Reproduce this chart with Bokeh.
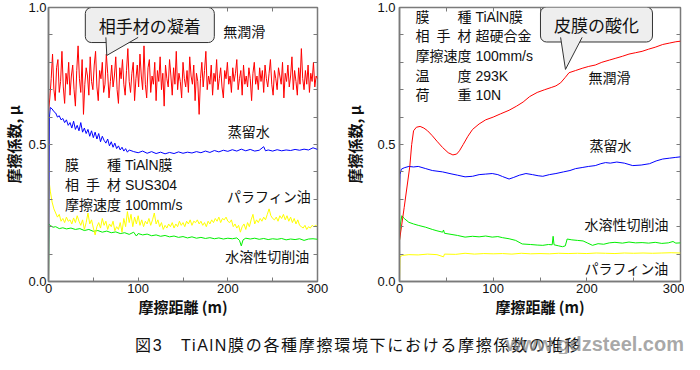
from bokeh.plotting import figure
from bokeh.models import Range1d, FixedTicker, LinearAxis, Label, NumeralTickFormatter, Div
from bokeh.layouts import row, column
from bokeh.embed import file_html
from bokeh.resources import INLINE

# ---------------- data: left panel (counterpart SUS304) ----------------
red_left_x = [i * 1.5 for i in range(201)]
red_left_y = [0.62, 0.67, 0.74, 0.83, 0.70, 0.66, 0.78, 0.81, 0.69, 0.73,
              0.84, 0.71, 0.65, 0.76, 0.72, 0.80, 0.68, 0.75, 0.79, 0.70,
              0.64, 0.77, 0.86, 0.74, 0.69, 0.81, 0.61, 0.72, 0.78, 0.75,
              0.68, 0.82, 0.73, 0.70, 0.79, 0.84, 0.71, 0.66, 0.77, 0.74,
              0.80, 0.69, 0.72, 0.83, 0.76, 0.67, 0.73, 0.79, 0.71, 0.75,
              0.82, 0.70, 0.65, 0.78, 0.74, 0.81, 0.72, 0.68, 0.77, 0.85,
              0.73, 0.69, 0.76, 0.80, 0.66, 0.74, 0.79, 0.71, 0.83, 0.75,
              0.70, 0.86, 0.72, 0.67, 0.78, 0.81, 0.69, 0.75, 0.72, 0.80,
              0.66, 0.77, 0.73, 0.82, 0.70, 0.76, 0.64, 0.79, 0.74, 0.71,
              0.81, 0.75, 0.68, 0.78, 0.72, 0.84, 0.70, 0.76, 0.73, 0.67,
              0.80, 0.74, 0.71, 0.77, 0.69, 0.82, 0.75, 0.72, 0.79, 0.66,
              0.76, 0.73, 0.61, 0.74, 0.80, 0.71, 0.77, 0.84, 0.70, 0.75,
              0.72, 0.79, 0.68, 0.76, 0.73, 0.81, 0.70, 0.74, 0.78, 0.71,
              0.67, 0.77, 0.74, 0.80, 0.72, 0.75, 0.69, 0.78, 0.73, 0.76,
              0.81, 0.70, 0.74, 0.77, 0.68, 0.79, 0.72, 0.75, 0.71, 0.78,
              0.74, 0.66, 0.76, 0.80, 0.72, 0.75, 0.70, 0.78, 0.73, 0.77,
              0.69, 0.79, 0.74, 0.71, 0.76, 0.81, 0.72, 0.68, 0.77, 0.74,
              0.70, 0.78, 0.75, 0.72, 0.80, 0.67, 0.76, 0.73, 0.79, 0.71,
              0.75, 0.82, 0.70, 0.77, 0.73, 0.68, 0.78, 0.72, 0.85, 0.74,
              0.70, 0.77, 0.72, 0.79, 0.69, 0.76, 0.73, 0.80, 0.71, 0.75,
              0.74]

blue_left_x = [0, 1, 2, 4, 6, 8, 10, 12, 14, 16, 18, 20, 22, 24, 26, 28, 30, 32, 34, 36, 38, 40, 42, 44, 46,
               48, 50, 52, 54, 56, 58, 60, 62, 64, 66, 68, 70, 72, 74, 76, 78, 80, 82, 84, 86, 88, 90, 95,
               100, 105, 110, 115, 120, 125, 130, 135, 140, 145, 150, 155, 160, 165, 170, 175, 180, 185,
               190, 195, 200, 205, 210, 215, 220, 225, 230, 235, 240, 242, 245, 250, 255, 260, 265, 270,
               275, 280, 285, 290, 295, 300]
blue_left_y = [0.0, 0.60, 0.635, 0.63, 0.62, 0.615, 0.60, 0.605, 0.59, 0.595, 0.58, 0.59, 0.57, 0.58, 0.56,
               0.585, 0.555, 0.57, 0.55, 0.58, 0.545, 0.56, 0.54, 0.555, 0.53, 0.55, 0.525, 0.545, 0.52,
               0.54, 0.51, 0.53, 0.515, 0.505, 0.52, 0.495, 0.51, 0.49, 0.505, 0.485, 0.495, 0.48, 0.49,
               0.476, 0.485, 0.472, 0.48, 0.474, 0.47, 0.476, 0.468, 0.474, 0.467, 0.472, 0.466, 0.471,
               0.467, 0.473, 0.468, 0.472, 0.469, 0.474, 0.47, 0.476, 0.471, 0.478, 0.473, 0.479, 0.475,
               0.481, 0.476, 0.483, 0.477, 0.482, 0.476, 0.479, 0.492, 0.477, 0.48, 0.476, 0.481, 0.477,
               0.48, 0.478, 0.482, 0.479, 0.483, 0.48, 0.488, 0.482]

yellow_left_x = [0, 0.5] + list(range(2, 301, 2))
yellow_left_y = [0.0, 0.37, 0.33, 0.29, 0.265, 0.25, 0.235, 0.245, 0.22, 0.23, 0.215, 0.235, 0.22, 0.225,
                 0.21, 0.232, 0.215, 0.24, 0.22, 0.205, 0.225, 0.19, 0.215, 0.25, 0.21, 0.225, 0.195, 0.17,
                 0.2, 0.215, 0.195, 0.23, 0.205, 0.22, 0.19, 0.21, 0.2, 0.22, 0.185, 0.2, 0.19, 0.215, 0.18,
                 0.23, 0.2, 0.255, 0.215, 0.245, 0.2, 0.235, 0.21, 0.24, 0.205, 0.225, 0.2, 0.22, 0.21,
                 0.23, 0.205, 0.225, 0.25, 0.21, 0.225, 0.2, 0.215, 0.19, 0.205, 0.195, 0.21, 0.2, 0.215,
                 0.195, 0.21, 0.2, 0.22, 0.205, 0.215, 0.2, 0.22, 0.21, 0.225, 0.205, 0.22, 0.215, 0.225,
                 0.21, 0.22, 0.205, 0.215, 0.2, 0.22, 0.21, 0.225, 0.215, 0.23, 0.22, 0.235, 0.215, 0.23,
                 0.225, 0.235, 0.22, 0.215, 0.225, 0.2, 0.21, 0.195, 0.205, 0.18, 0.2, 0.21, 0.19, 0.215,
                 0.2, 0.225, 0.245, 0.21, 0.225, 0.215, 0.23, 0.22, 0.235, 0.225, 0.245, 0.265, 0.24, 0.23,
                 0.225, 0.235, 0.22, 0.24, 0.23, 0.245, 0.225, 0.24, 0.22, 0.235, 0.215, 0.23, 0.21, 0.225,
                 0.205, 0.2, 0.195, 0.205, 0.19, 0.2, 0.195, 0.205, 0.2, 0.205, 0.2]

green_left_x = [0, 0.5, 2, 5, 8, 12, 16, 20, 25, 30, 35, 40, 45, 50, 55, 60, 65, 70, 75, 80, 85, 90, 95, 98,
                100, 105, 110, 115, 120, 125, 130, 135, 140, 145, 150, 155, 160, 165, 170, 175, 180, 185,
                190, 195, 200, 205, 210, 213, 215, 217, 220, 225, 230, 235, 240, 245, 250, 255, 260, 265,
                270, 275, 280, 285, 290, 295, 300]
green_left_y = [0.0, 0.21, 0.205, 0.198, 0.2, 0.193, 0.196, 0.192, 0.195, 0.19, 0.193, 0.186, 0.19, 0.183,
                0.186, 0.18, 0.184, 0.178, 0.181, 0.175, 0.178, 0.172, 0.18, 0.166, 0.175, 0.17, 0.173,
                0.167, 0.17, 0.165, 0.168, 0.163, 0.166, 0.161, 0.164, 0.159, 0.163, 0.158, 0.161, 0.157,
                0.16, 0.156, 0.159, 0.155, 0.158, 0.156, 0.159, 0.15, 0.13, 0.152, 0.158, 0.155, 0.158,
                0.154, 0.157, 0.153, 0.156, 0.154, 0.157, 0.152, 0.155, 0.153, 0.156, 0.15, 0.155, 0.156,
                0.154]

# ---------------- data: right panel (counterpart cemented carbide) ----------------
red_right_x = [0, 5, 11, 13, 15, 18, 22, 26, 30, 35, 40, 46, 52, 57, 61, 64, 68, 73, 78, 85, 92, 100, 108,
               117, 125, 132, 139, 147, 155, 162, 167, 172, 177, 181, 188, 195, 202, 209, 216, 224, 231,
               238, 245, 252, 259, 266, 273, 281, 288, 295, 300]
red_right_y = [0.15, 0.27, 0.42, 0.50, 0.55, 0.563, 0.566, 0.56, 0.55, 0.532, 0.512, 0.489, 0.47, 0.462,
               0.465, 0.477, 0.50, 0.53, 0.555, 0.575, 0.59, 0.60, 0.612, 0.625, 0.64, 0.655, 0.675, 0.69,
               0.70, 0.708, 0.714, 0.725, 0.745, 0.762, 0.77, 0.778, 0.785, 0.79, 0.80, 0.808, 0.815,
               0.822, 0.83, 0.835, 0.84, 0.848, 0.855, 0.865, 0.87, 0.875, 0.877]

blue_right_x = [0, 0.5, 2, 5, 10, 15, 20, 28, 35, 46, 55, 62, 70, 78, 85, 92, 99, 105, 110, 117, 122, 128,
                135, 142, 148, 153, 160, 167, 175, 182, 188, 195, 202, 209, 215, 220, 225, 232, 240, 249,
                258, 267, 274, 281, 288, 295, 300]
blue_right_y = [0.33, 0.39, 0.41, 0.415, 0.42, 0.418, 0.42, 0.412, 0.405, 0.40, 0.393, 0.388, 0.382, 0.384,
                0.39, 0.392, 0.394, 0.39, 0.383, 0.374, 0.38, 0.388, 0.394, 0.39, 0.386, 0.384, 0.39, 0.394,
                0.40, 0.405, 0.412, 0.416, 0.42, 0.423, 0.43, 0.434, 0.432, 0.436, 0.432, 0.423, 0.425,
                0.43, 0.44, 0.447, 0.45, 0.453, 0.455]

green_right_x = [0, 1, 2.5, 5, 10, 15, 20, 28, 35, 40, 46, 47, 48, 55, 62, 70, 78, 85, 92, 99, 105, 110, 117,
                 124, 131, 140, 147, 153, 159, 163, 164, 165, 170, 174, 177, 179, 184, 190, 196, 201, 206,
                 212, 218, 224, 230, 238, 245, 252, 259, 266, 273, 280, 287, 292, 295, 300]
green_right_y = [0.15, 0.21, 0.24, 0.23, 0.216, 0.21, 0.205, 0.198, 0.19, 0.185, 0.18, 0.188, 0.176, 0.172,
                 0.168, 0.162, 0.165, 0.163, 0.166, 0.162, 0.164, 0.16, 0.156, 0.15, 0.137, 0.135, 0.133,
                 0.132, 0.135, 0.134, 0.165, 0.134, 0.13, 0.127, 0.13, 0.155, 0.152, 0.15, 0.148, 0.14,
                 0.132, 0.138, 0.136, 0.141, 0.143, 0.14, 0.144, 0.141, 0.142, 0.14, 0.143, 0.139, 0.141,
                 0.146, 0.14, 0.141]

yellow_right_x = [0, 0.5, 3, 10, 20, 30, 40, 47, 48, 60, 70, 80, 90, 100, 110, 120, 130, 140, 150, 160, 170,
                  180, 190, 200, 210, 220, 230, 240, 250, 260, 270, 280, 290, 300]
yellow_right_y = [0.0, 0.09, 0.095, 0.098, 0.097, 0.1, 0.098, 0.09, 0.1, 0.099, 0.103, 0.1, 0.102, 0.101,
                  0.102, 0.1, 0.103, 0.101, 0.102, 0.101, 0.103, 0.102, 0.103, 0.102, 0.104, 0.103, 0.102,
                  0.104, 0.103, 0.104, 0.103, 0.104, 0.105, 0.104]

x_major = [0, 100, 200, 300]
x_minor = [50, 150, 250]
y_major = [0.0, 0.5, 1.0]
y_minor = [0.1, 0.2, 0.3, 0.4, 0.6, 0.7, 0.8, 0.9]

left_info = ["膜\u3000\u3000種 TiAlN膜", "相\u2002手\u2002材 SUS304", "摩擦速度 100mm/s"]
right_info = ["膜\u3000\u3000種 TiAlN膜", "相\u2002手\u2002材 超硬合金", "摩擦速度 100mm/s",
              "温\u3000\u3000度 293K", "荷\u3000\u3000重 10N"]
caption = "図3\u3000TiAlN膜の各種摩擦環境下における摩擦係数の推移"

FONT = "Liberation Sans, Noto Sans CJK JP"
JP = "Noto Sans CJK JP"
GRAY = "#7a7a7a"
H = 323
BTOP = 7
FRAME_H = 274
CAP_H = 354 - H


def style_axis(ax, xdir):
    ax.ticker = FixedTicker(ticks=x_major if xdir else y_major, minor_ticks=x_minor if xdir else y_minor)
    ax.major_tick_in = 4
    ax.major_tick_out = 0
    ax.minor_tick_in = 4
    ax.minor_tick_out = 0
    ax.major_tick_line_color = GRAY
    ax.minor_tick_line_color = GRAY
    ax.major_tick_line_width = 1
    ax.axis_line_color = GRAY
    ax.axis_line_width = 1.5
    ax.formatter = NumeralTickFormatter(format="0" if xdir else "0.0")
    ax.major_label_text_font = "Liberation Sans"
    ax.major_label_text_font_size = "13px"
    ax.major_label_text_color = "#111111"


def tick_only_axis(xdir):
    # an axis with only (unlabelled) minor ticks, for the top and right edges of the frame
    ax = LinearAxis(ticker=FixedTicker(ticks=[], minor_ticks=(x_major + x_minor) if xdir else (y_major + y_minor)))
    ax.minor_tick_in = 4
    ax.minor_tick_out = 0
    ax.major_tick_in = 0
    ax.major_tick_out = 0
    ax.minor_tick_line_color = GRAY
    ax.axis_line_color = None
    ax.major_label_standoff = 0
    ax.axis_label_standoff = 0
    return ax


def make_fig(width, bl, br, ylab_standoff, ytick_standoff):
    p = figure(width=width, height=H, x_range=Range1d(0, 300), y_range=Range1d(0, 1),
               output_backend="svg", toolbar_location=None, margin=0,
               min_border_left=bl, min_border_right=br, min_border_top=BTOP,
               min_border_bottom=H - FRAME_H - BTOP)
    p.xgrid.visible = False
    p.ygrid.visible = False
    p.outline_line_color = GRAY
    p.outline_line_width = 1.5
    style_axis(p.xaxis[0], True)
    style_axis(p.yaxis[0], False)
    p.xaxis.major_label_standoff = 2
    p.yaxis.major_label_standoff = ytick_standoff
    p.xaxis.axis_label = "摩擦距離 (m)"
    p.yaxis.axis_label = "摩擦係数, μ"
    for ax in (p.xaxis[0], p.yaxis[0]):
        ax.axis_label_text_font = JP
        ax.axis_label_text_font_size = "15px"
        ax.axis_label_text_font_style = "bold"
        ax.axis_label_text_color = "#111111"
    p.xaxis.axis_label_standoff = 0
    p.yaxis.axis_label_standoff = ylab_standoff
    p.add_layout(tick_only_axis(True), "above")
    p.add_layout(tick_only_axis(False), "right")
    return p


def add_text(p, x, y, t, size="14px", font=FONT):
    p.add_layout(Label(x=x, y=y, text=t, text_font=font, text_font_size=size, text_align="left",
                       text_baseline="middle", text_color="#111111"))


def add_callout(p, cx, cy, t, tail_x, tail_y):
    p.patch(tail_x, tail_y, fill_color="#eeeeee", line_color=None, level="overlay")
    p.line(tail_x, tail_y, line_color="#333333", line_width=1, level="overlay")
    p.add_layout(Label(x=cx, y=cy, text="\u2002" + t + "\u2002", text_font=JP, text_font_size="17px",
                       text_align="center", text_baseline="middle", text_color="#111111",
                       background_fill_color="#eeeeee", border_line_color="#333333",
                       border_line_width=1, padding=5, border_radius=6))


# ---------------- left ----------------
p1 = make_fig(332, 40, 15, 1, 2)
p1.line(green_left_x, green_left_y, line_color="#00ee00", line_width=1)
p1.line(yellow_left_x, yellow_left_y, line_color="#ffff00", line_width=1)
p1.line(blue_left_x, blue_left_y, line_color="#0000ff", line_width=1)
p1.line(red_left_x, red_left_y, line_color="#ff0000", line_width=1)
add_text(p1, 195, 0.909, "無潤滑")
add_text(p1, 200, 0.547, "蒸留水")
add_text(p1, 199, 0.307, "パラフィン油")
add_text(p1, 197, 0.088, "水溶性切削油")
for i, t in enumerate(left_info):
    add_text(p1, 18.4, 0.427 - i * 0.073, t)
add_callout(p1, 113, 0.936, "相手材の凝着", [64, 65, 100], [0.891, 0.825, 0.891])

# ---------------- right ----------------
p2 = make_fig(352, 67, 4, 9, 4)
p2.line(yellow_right_x, yellow_right_y, line_color="#ffff00", line_width=1)
p2.line(green_right_x, green_right_y, line_color="#00ee00", line_width=1)
p2.line(blue_right_x, blue_right_y, line_color="#0000ff", line_width=1)
p2.line(red_right_x, red_right_y, line_color="#ff0000", line_width=1)
add_text(p2, 201.8, 0.741, "無潤滑")
add_text(p2, 202.8, 0.493, "蒸留水")
add_text(p2, 197.5, 0.208, "水溶性切削油")
add_text(p2, 197.5, 0.047, "パラフィン油")
for i, t in enumerate(right_info):
    add_text(p2, 17.1, 0.967 - i * 0.072, t)
add_callout(p2, 210.3, 0.938, "皮膜の酸化", [172, 177.2, 195], [0.891, 0.774, 0.891])

cap_html = (
    '<div style="position:relative;width:684px;height:%dpx;overflow:hidden;">'
    '<span style="position:absolute;left:135px;top:%dpx;white-space:nowrap;'
    "font-family:'Liberation Sans','Noto Sans CJK JP';font-size:16px;line-height:16px;"
    'letter-spacing:1.7px;color:#111;">%s</span>'
    '<span style="position:absolute;right:0px;top:%dpx;white-space:nowrap;'
    "font-family:'Liberation Sans';font-weight:bold;font-size:20px;line-height:20px;"
    'color:rgba(140,140,140,0.75);">www.gdzsteel.com</span></div>'
) % (CAP_H, CAP_H - 16, caption, CAP_H - 20)
cap = Div(text=cap_html, width=684, height=CAP_H, margin=0)

layout = column(row(p1, p2, margin=0), cap, margin=0)
open("out.html", "w").write(file_html(layout, INLINE))
